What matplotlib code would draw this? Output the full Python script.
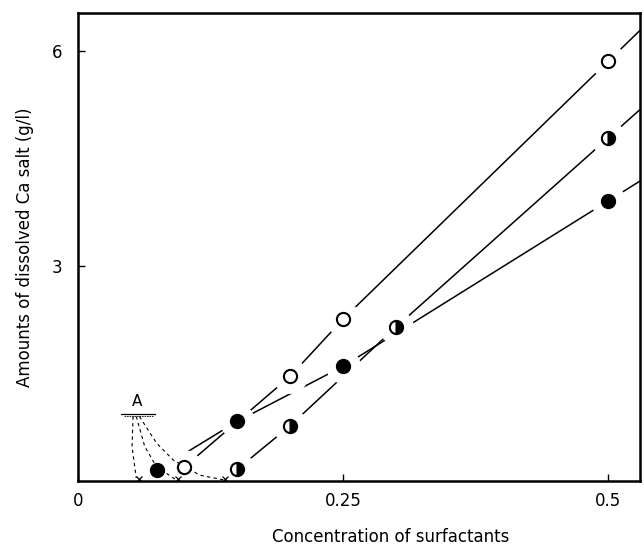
import numpy as np
import matplotlib.pyplot as plt

# open circles
x_open = [0.10, 0.20, 0.25, 0.50]
y_open = [0.19, 1.46, 2.26, 5.86]
# filled circles
x_fill = [0.075, 0.15, 0.25, 0.50]
y_fill = [0.15, 0.83, 1.60, 3.91]
# half filled circles
x_half = [0.15, 0.20, 0.30, 0.50]
y_half = [0.16, 0.77, 2.15, 4.79]

# dashed curves coming down from point A
curve1_x = [0.052, 0.051, 0.055]
curve1_y = [0.90, 0.48, 0.04]
curve2_x = [0.055, 0.063, 0.074, 0.093]
curve2_y = [0.90, 0.48, 0.20, 0.01]
curve3_x = [0.058, 0.074, 0.090, 0.115, 0.139]
curve3_y = [0.90, 0.53, 0.29, 0.08, 0.01]
cross_x = [0.058, 0.094, 0.139]

xticks = [0, 0.25, 0.5]
xticklabels = ['0', '0.25', '0.5']
yticks = [3, 6]

fig = plt.figure(figsize=(6.44, 5.49), dpi=100)
ax = fig.add_axes([0.121, 0.124, 0.873, 0.852])
ax.set_xlim(0, 0.53)
ax.set_ylim(0, 6.53)

for xs, ys in [(x_open, y_open), (x_fill, y_fill), (x_half, y_half)]:
    ax.plot(xs, ys, color='black', lw=1.1, zorder=1)
    # short continuation past the last point
    slope = (ys[-1] - ys[-2]) / (xs[-1] - xs[-2])
    ax.plot([xs[-1], 0.53], [ys[-1], ys[-1] + slope * (0.53 - xs[-1])],
            color='black', lw=1.1, zorder=1)

# white halos give the gaps around the markers
allx = x_open + x_fill + x_half
ally = y_open + y_fill + y_half
ax.plot(allx, ally, 'o', ms=24, color='white', mec='white', ls='none', zorder=2)

ax.plot(x_open, y_open, 'o', ms=9.5, mfc='white', mec='black', mew=1.5, ls='none', zorder=3)
ax.plot(x_fill, y_fill, 'o', ms=10, mfc='black', mec='black', ls='none', zorder=3)
ax.plot(x_half, y_half, 'o', ms=9.5, fillstyle='right', mfc='black', mfcalt='white',
        mec='black', mew=1.5, ls='none', zorder=3)

for cx, cy in [(curve1_x, curve1_y), (curve2_x, curve2_y), (curve3_x, curve3_y)]:
    ax.plot(cx, cy, color='black', lw=0.8, ls=(0, (3, 3)), zorder=2.2)
ax.plot(cross_x, [0.03] * len(cross_x), 'x', ms=5, color='black', mew=0.9, zorder=3)

ax.plot([0.041, 0.073], [0.94, 0.94], color='black', lw=0.9)
ax.plot([0.043, 0.071], [0.90, 0.90], color='black', lw=0.6, ls=(0, (2, 1)))
ax.text(0.056, 1.0, 'A', ha='center', va='bottom', fontsize=11)

for s in ax.spines.values():
    s.set_linewidth(1.8)
    s.set_zorder(2.5)

ax.set_xticks(xticks, xticklabels)
ax.set_yticks(yticks)
ax.tick_params(direction='in', length=5, width=1, labelsize=12)
ax.tick_params(axis='x', pad=8)
ax.tick_params(axis='y', pad=11)

ax.set_xlabel('Concentration of surfactants', fontsize=12)
ax.xaxis.set_label_coords(0.557, -0.10)
ax.set_ylabel('Amounts of dissolved Ca salt (g/l)', fontsize=12)
ax.yaxis.set_label_coords(-0.078, 0.5)

plt.savefig('out.png', dpi=100)
